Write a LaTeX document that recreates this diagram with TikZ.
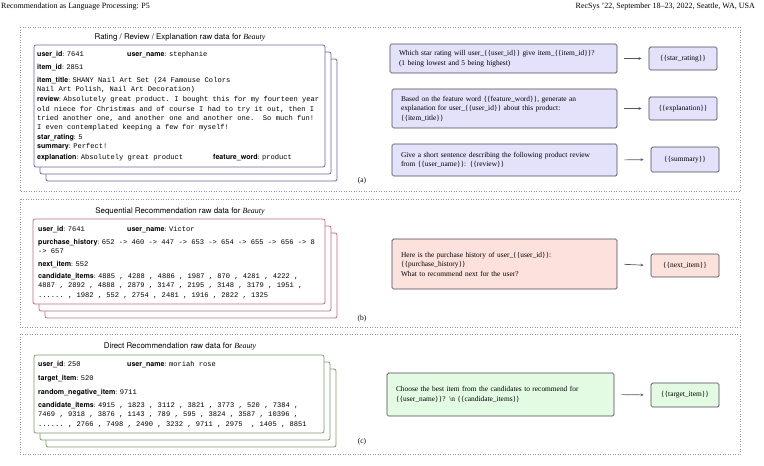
\documentclass[tikz,border=0pt]{standalone}
\usepackage{fontspec}
\setmainfont{Liberation Serif}
\setsansfont{TeX Gyre Heros}
\setmonofont{Liberation Mono}
\usepackage{xcolor}
\usetikzlibrary{arrows.meta}

\definecolor{cardA}{RGB}{106,98,172}
\definecolor{cardB}{RGB}{196,104,128}
\definecolor{cardC}{RGB}{120,158,102}
\definecolor{fillA}{RGB}{228,225,251}
\definecolor{fillB}{RGB}{252,225,221}
\definecolor{fillC}{RGB}{226,251,226}
\definecolor{promptline}{RGB}{72,72,82}
\definecolor{arrowgray}{RGB}{84,88,108}
\definecolor{framegray}{RGB}{150,150,150}

\newcommand{\fld}[2]{{\sffamily\bfseries #1}: \texttt{#2}}
\newcommand{\raw}[1]{\texttt{#1}}

\begin{document}
\begin{tikzpicture}[x=1pt, y=-1pt,
  secframe/.style={draw=framegray, dotted, line width=0.5pt},
  cardbox/.style={fill=white, line width=0.8pt, rounded corners=2pt},
  cardtxt/.style={anchor=west, inner sep=0pt, text height=5pt, text depth=1.5pt, font=\fontsize{7.1}{9}\selectfont},
  rawtitle/.style={font=\sffamily\fontsize{7.9}{9}\selectfont, inner sep=0pt},
  promptbox/.style={draw=promptline, line width=0.7pt, rounded corners=1.5pt, inner xsep=9pt, inner ysep=0pt, align=left, font=\fontsize{7.4}{9.5}\selectfont},
  answerbox/.style={draw=promptline, line width=0.7pt, rounded corners=1.5pt, minimum width=68pt, inner sep=0pt, font=\fontsize{7.4}{9.5}\selectfont},
  flow/.style={draw=arrowgray, line width=0.7pt, -{Stealth[length=3.2pt,width=2.8pt]}, shorten <=7pt, shorten >=7pt},
  subtag/.style={font=\fontsize{7.5}{9}\selectfont, inner sep=0pt}]
\useasboundingbox (0,0) rectangle (764,466);

% running head of the page
\node[anchor=base west, inner sep=0pt, font=\fontsize{8}{9}\selectfont] (headl) at (1,8) {Recommendation as Language Processing: P5};
\node[anchor=base east, inner sep=0pt, font=\fontsize{8}{9}\selectfont] (headr) at (755,8) {RecSys '22, September 18--23, 2022, Seattle, WA, USA};

% section frames
\draw[secframe] (20,27) rectangle (740,191);
\draw[secframe] (20,199) rectangle (740,327);
\draw[secframe] (20,334) rectangle (740,454);

% (a) rating / review / explanation
\node[rawtitle] (titleA) at (180,37) {Rating / Review / Explanation raw data for {\rmfamily\itshape Beauty}};
\foreach \dx/\dy in {12/14,6/7,0/0}
  \draw[cardbox, draw=cardA] (34+\dx,45+\dy) rectangle (325+\dx,167+\dy);
\node[cardtxt] (uidA) at (37,55) {\fld{user\_id}{7641}};
\node[cardtxt] (unameA) at (127,55) {\fld{user\_name}{stephanie}};
\node[cardtxt] (iid) at (37,68) {\fld{item\_id}{2851}};
\node[cardtxt] (ititle) at (37,81) {\fld{item\_title}{SHANY Nail Art Set (24 Famouse Colors}};
\node[cardtxt] (ititle2) at (37,90) {\raw{Nail Art Polish, Nail Art Decoration)}};
\node[cardtxt] (rev) at (37,100) {\fld{review}{Absolutely great product. I bought this for my fourteen year}};
\node[cardtxt] (rev2) at (37,109.5) {\raw{old niece for Christmas and of course I had to try it out, then I}};
\node[cardtxt] (rev3) at (37,119) {\raw{tried another one, and another one and another one.\ \ So much fun!}};
\node[cardtxt] (rev4) at (37,128) {\raw{I even contemplated keeping a few for myself!}};
\node[cardtxt] (star) at (37,138) {\fld{star\_rating}{5}};
\node[cardtxt] (summ) at (37,147) {\fld{summary}{Perfect!}};
\node[cardtxt] (expl) at (37,158) {\fld{explanation}{Absolutely great product}};
\node[cardtxt] (feat) at (213,158) {\fld{feature\_word}{product}};

\node[promptbox, fill=fillA, text width=209pt, minimum height=29pt] (p1) at (503.5,58.5)
  {Which star rating will user\_\{\{user\_id\}\} give item\_\{\{item\_id\}\}?\\(1 being lowest and 5 being highest)};
\node[promptbox, fill=fillA, text width=207pt, minimum height=39pt] (p2) at (504.5,108.5)
  {Based on the feature word \{\{feature\_word\}\}, generate an\\explanation for user\_\{\{user\_id\}\} about this product:\\\{\{item\_title\}\}};
\node[promptbox, fill=fillA, text width=207pt, minimum height=32pt] (p3) at (504.5,160)
  {Give a short sentence describing the following product review\\from \{\{user\_name\}\}: \{\{review\}\}};
\node[answerbox, fill=fillA, minimum height=23pt] (o1) at (683,58.5) {\{\{star\_rating\}\}};
\node[answerbox, fill=fillA, minimum height=23pt] (o2) at (683,108.5) {\{\{explanation\}\}};
\node[answerbox, fill=fillA, minimum height=25pt] (o3) at (685,159.5) {\{\{summary\}\}};
\draw[flow] (p1.east) -- (o1.west);
\draw[flow] (p2.east) -- (o2.west);
\draw[flow] (p3.east) -- (o3.west);
\node[subtag] (tagA) at (362,181) {(a)};

% (b) sequential recommendation
\node[rawtitle] (titleB) at (180,211) {Sequential Recommendation raw data for {\rmfamily\itshape Beauty}};
\foreach \dx/\dy in {12/14,6/7,0/0}
  \draw[cardbox, draw=cardB] (33+\dx,219+\dy) rectangle (325+\dx,304+\dy);
\node[cardtxt] (uidB) at (38,230) {\fld{user\_id}{7641}};
\node[cardtxt] (unameB) at (127,230) {\fld{user\_name}{Victor}};
\node[cardtxt] (hist) at (38,243) {\fld{purchase\_history}{652 -> 460 -> 447 -> 653 -> 654 -> 655 -> 656 -> 8}};
\node[cardtxt] (hist2) at (38,252) {\raw{-> 657}};
\node[cardtxt] (next) at (38,265) {\fld{next\_item}{552}};
\node[cardtxt] (candB) at (38,277) {\fld{candidate\_items}{4885 , 4288 , 4886 , 1987 , 870 , 4281 , 4222 ,}};
\node[cardtxt] (candB2) at (38,286) {\raw{4887 , 2892 , 4888 , 2879 , 3147 , 2195 , 3148 , 3179 , 1951 ,}};
\node[cardtxt] (candB3) at (38,296) {\raw{...... , 1982 , 552 , 2754 , 2481 , 1916 , 2822 , 1325}};

\node[promptbox, fill=fillB, text width=207pt, minimum height=50pt] (pB) at (504.5,264)
  {Here is the purchase history of user\_\{\{user\_id\}\}:\\\{\{purchase\_history\}\}\\What to recommend next for the user?};
\node[answerbox, fill=fillB, minimum height=23pt] (oB) at (685,265.5) {\{\{next\_item\}\}};
\draw[flow] (pB.east) -- (oB.west);
\node[subtag] (tagB) at (362,319) {(b)};

% (c) direct recommendation
\node[rawtitle] (titleC) at (180,346) {Direct Recommendation raw data for {\rmfamily\itshape Beauty}};
\foreach \dx/\dy in {12/14,6/7,0/0}
  \draw[cardbox, draw=cardC] (34+\dx,355+\dy) rectangle (324+\dx,433+\dy);
\node[cardtxt] (uidC) at (38,365) {\fld{user\_id}{250}};
\node[cardtxt] (unameC) at (127,365) {\fld{user\_name}{moriah rose}};
\node[cardtxt] (target) at (38,379) {\fld{target\_item}{520}};
\node[cardtxt] (neg) at (38,393) {\fld{random\_negative\_item}{9711}};
\node[cardtxt] (candC) at (38,406) {\fld{candidate\_items}{4915 , 1823 , 3112 , 3821 , 3773 , 520 , 7384 ,}};
\node[cardtxt] (candC2) at (38,415) {\raw{7469 , 9318 , 3876 , 1143 , 789 , 595 , 3824 , 3587 , 10396 ,}};
\node[cardtxt] (candC3) at (38,425) {\raw{...... , 2766 , 7498 , 2490 , 3232 , 9711 , 2975\ \ , 1405 , 8851}};

\node[promptbox, fill=fillC, text width=209pt, minimum height=43pt] (pC) at (500.5,394.5)
  {Choose the best item from the candidates to recommend for\\\{\{user\_name\}\}? \textbackslash n \{\{candidate\_items\}\}};
\node[answerbox, fill=fillC, minimum height=24pt] (oC) at (685,395) {\{\{target\_item\}\}};
\draw[flow] (pC.east) -- (oC.west);
\node[subtag] (tagC) at (362,442) {(c)};
\end{tikzpicture}
\end{document}
